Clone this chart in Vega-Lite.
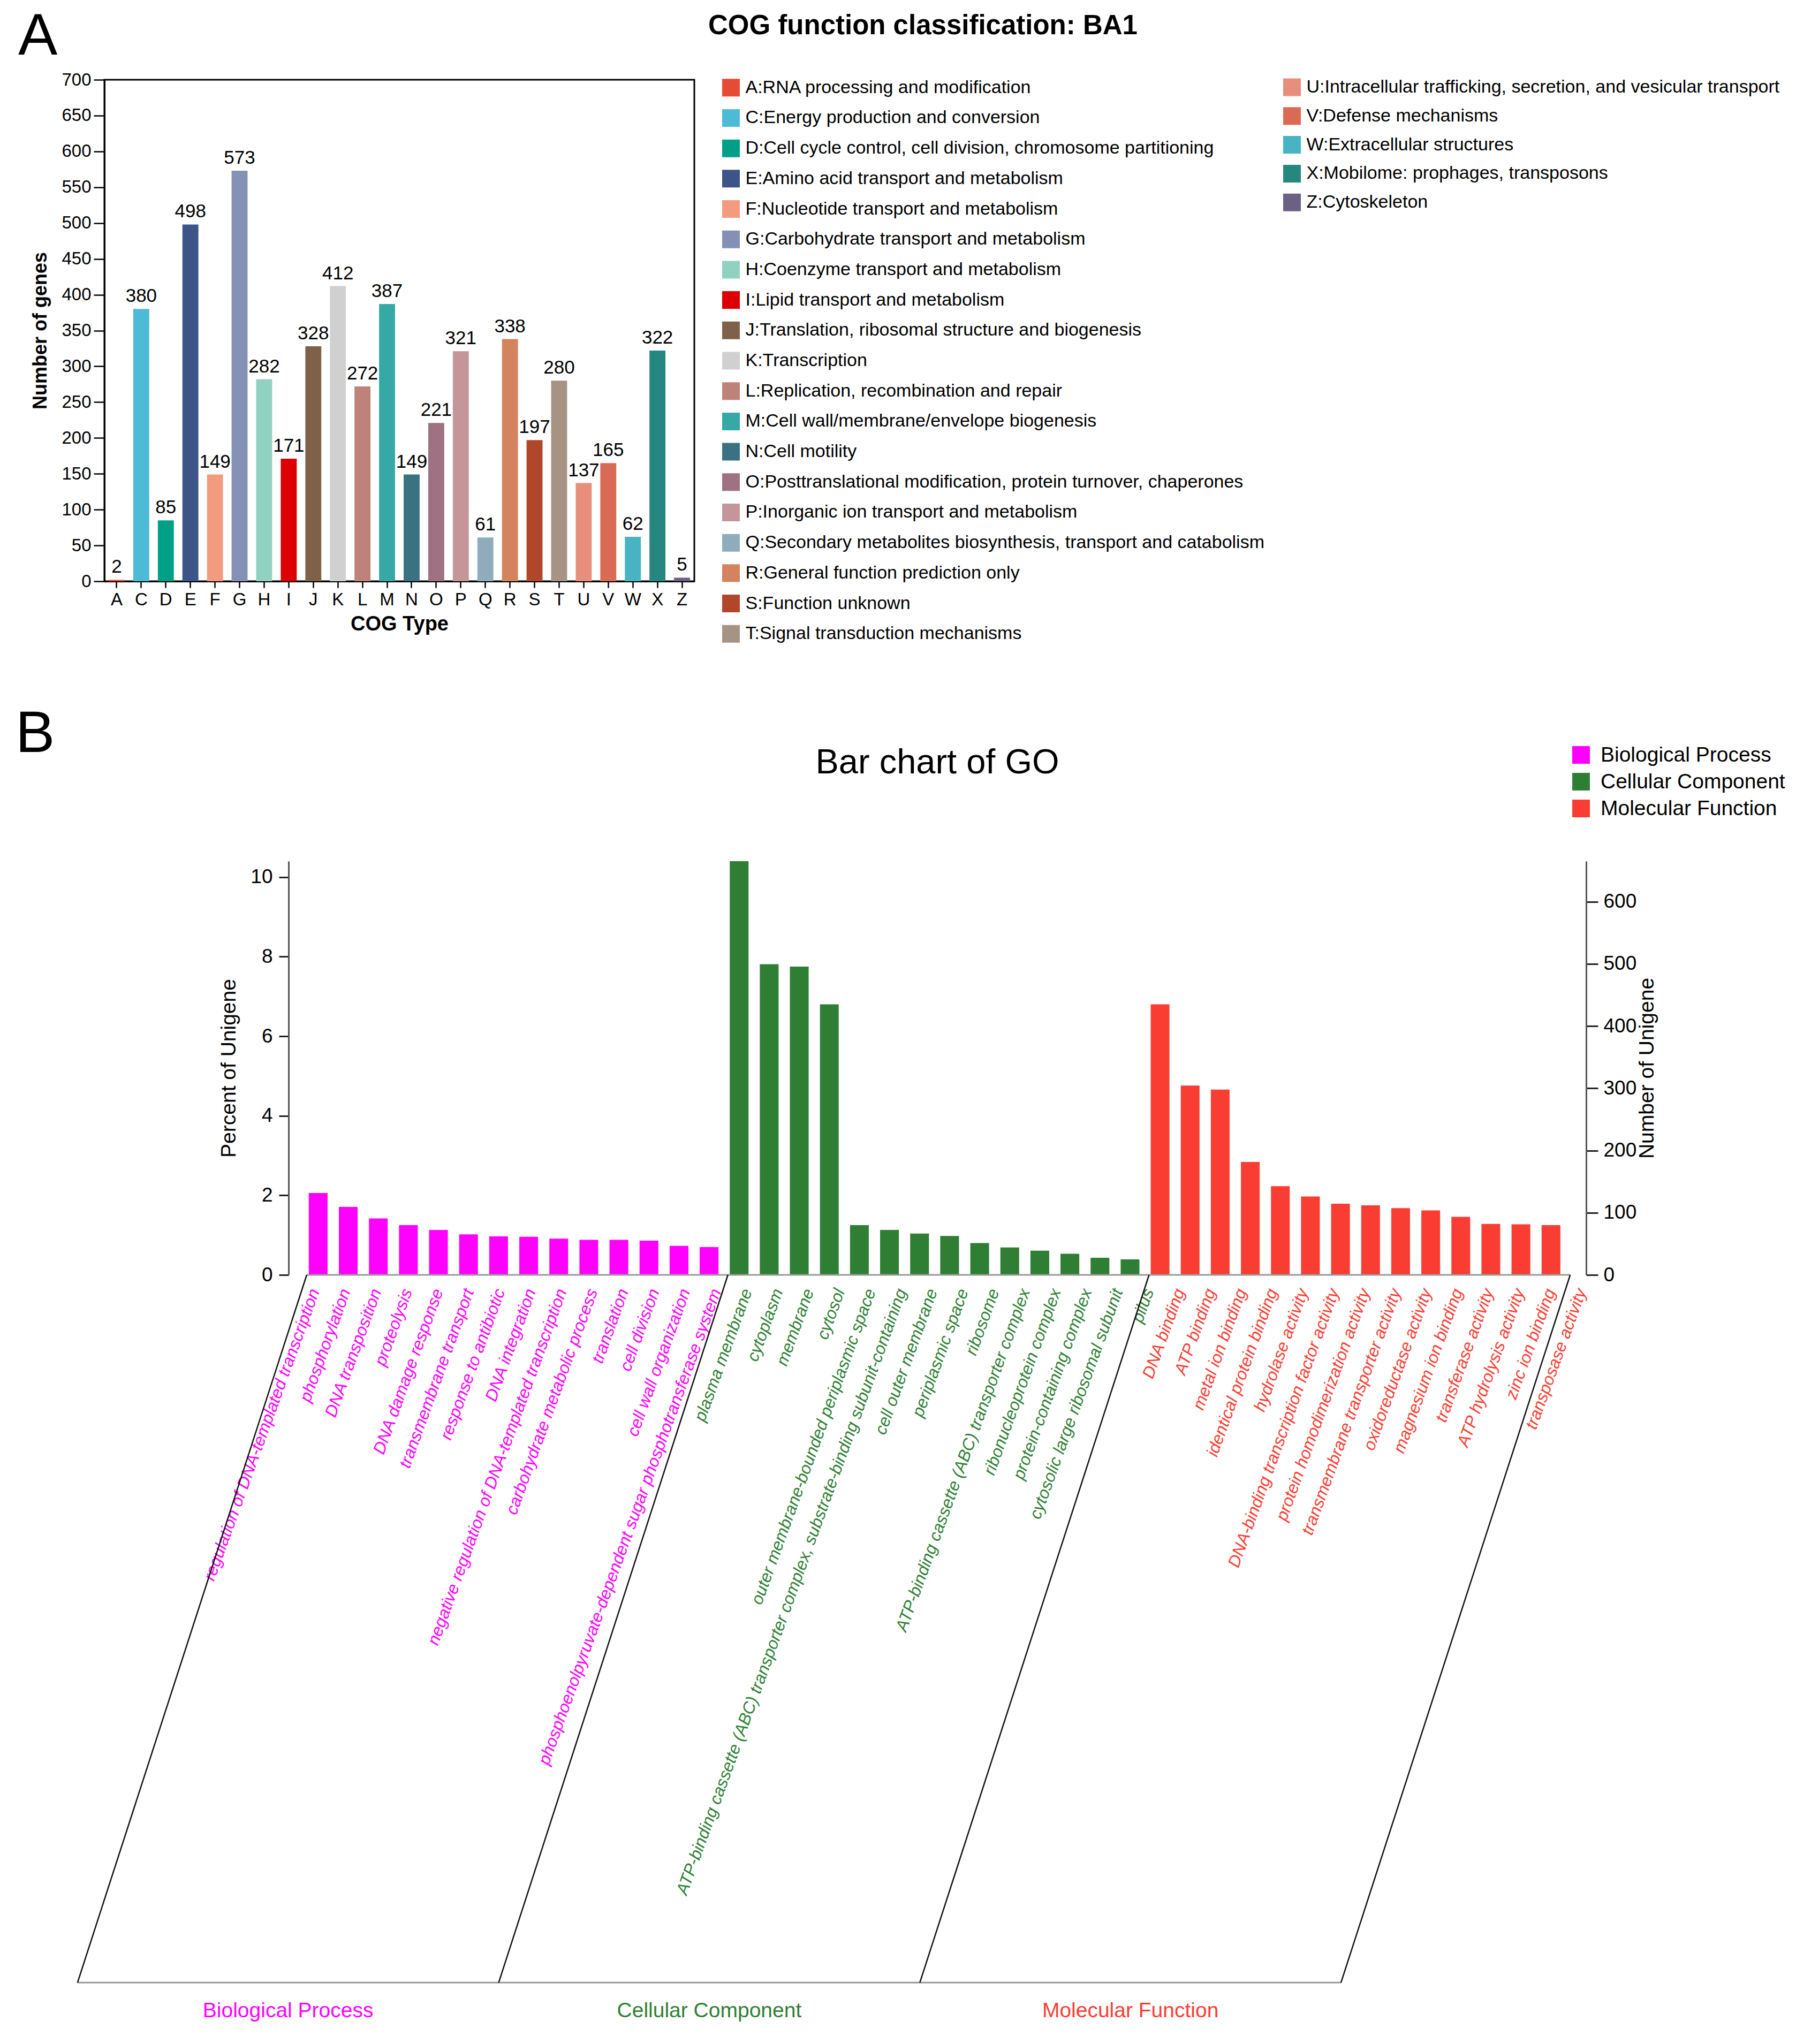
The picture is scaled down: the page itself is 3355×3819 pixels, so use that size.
{
  "$schema": "https://vega.github.io/schema/vega-lite/v6.json",
  "background": "white",
  "padding": {"left": 29, "top": 12, "right": 0, "bottom": 0},
  "datasets": {
    "cog": [
      {"code": "A", "name": "A:RNA processing and modification", "genes": 2},
      {"code": "C", "name": "C:Energy production and conversion", "genes": 380},
      {"code": "D", "name": "D:Cell cycle control, cell division, chromosome partitioning", "genes": 85},
      {"code": "E", "name": "E:Amino acid transport and metabolism", "genes": 498},
      {"code": "F", "name": "F:Nucleotide transport and metabolism", "genes": 149},
      {"code": "G", "name": "G:Carbohydrate transport and metabolism", "genes": 573},
      {"code": "H", "name": "H:Coenzyme transport and metabolism", "genes": 282},
      {"code": "I", "name": "I:Lipid transport and metabolism", "genes": 171},
      {"code": "J", "name": "J:Translation, ribosomal structure and biogenesis", "genes": 328},
      {"code": "K", "name": "K:Transcription", "genes": 412},
      {"code": "L", "name": "L:Replication, recombination and repair", "genes": 272},
      {"code": "M", "name": "M:Cell wall/membrane/envelope biogenesis", "genes": 387},
      {"code": "N", "name": "N:Cell motility", "genes": 149},
      {"code": "O", "name": "O:Posttranslational modification, protein turnover, chaperones", "genes": 221},
      {"code": "P", "name": "P:Inorganic ion transport and metabolism", "genes": 321},
      {"code": "Q", "name": "Q:Secondary metabolites biosynthesis, transport and catabolism", "genes": 61},
      {"code": "R", "name": "R:General function prediction only", "genes": 338},
      {"code": "S", "name": "S:Function unknown", "genes": 197},
      {"code": "T", "name": "T:Signal transduction mechanisms", "genes": 280},
      {"code": "U", "name": "U:Intracellular trafficking, secretion, and vesicular transport", "genes": 137},
      {"code": "V", "name": "V:Defense mechanisms", "genes": 165},
      {"code": "W", "name": "W:Extracellular structures", "genes": 62},
      {"code": "X", "name": "X:Mobilome: prophages, transposons", "genes": 322},
      {"code": "Z", "name": "Z:Cytoskeleton", "genes": 5}
    ],
    "go": [
      {"term": "regulation of DNA-templated transcription", "group": "Biological Process", "percent": 2.06},
      {"term": "phosphorylation", "group": "Biological Process", "percent": 1.71},
      {"term": "DNA transposition", "group": "Biological Process", "percent": 1.42},
      {"term": "proteolysis", "group": "Biological Process", "percent": 1.25},
      {"term": "DNA damage response", "group": "Biological Process", "percent": 1.13},
      {"term": "transmembrane transport", "group": "Biological Process", "percent": 1.02},
      {"term": "response to antibiotic", "group": "Biological Process", "percent": 0.97},
      {"term": "DNA integration", "group": "Biological Process", "percent": 0.96},
      {"term": "negative regulation of DNA-templated transcription", "group": "Biological Process", "percent": 0.91},
      {"term": "carbohydrate metabolic process", "group": "Biological Process", "percent": 0.88},
      {"term": "translation", "group": "Biological Process", "percent": 0.88},
      {"term": "cell division", "group": "Biological Process", "percent": 0.86},
      {"term": "cell wall organization", "group": "Biological Process", "percent": 0.73},
      {"term": "phosphoenolpyruvate-dependent sugar phosphotransferase system", "group": "Biological Process", "percent": 0.70},
      {"term": "plasma membrane", "group": "Cellular Component", "percent": 10.4},
      {"term": "cytoplasm", "group": "Cellular Component", "percent": 7.81},
      {"term": "membrane", "group": "Cellular Component", "percent": 7.75},
      {"term": "cytosol", "group": "Cellular Component", "percent": 6.8},
      {"term": "outer membrane-bounded periplasmic space", "group": "Cellular Component", "percent": 1.25},
      {"term": "ATP-binding cassette (ABC) transporter complex, substrate-binding subunit-containing", "group": "Cellular Component", "percent": 1.13},
      {"term": "cell outer membrane", "group": "Cellular Component", "percent": 1.04},
      {"term": "periplasmic space", "group": "Cellular Component", "percent": 0.98},
      {"term": "ribosome", "group": "Cellular Component", "percent": 0.8},
      {"term": "ATP-binding cassette (ABC) transporter complex", "group": "Cellular Component", "percent": 0.69},
      {"term": "ribonucleoprotein complex", "group": "Cellular Component", "percent": 0.61},
      {"term": "protein-containing complex", "group": "Cellular Component", "percent": 0.53},
      {"term": "cytosolic large ribosomal subunit", "group": "Cellular Component", "percent": 0.43},
      {"term": "pilus", "group": "Cellular Component", "percent": 0.39},
      {"term": "DNA binding", "group": "Molecular Function", "percent": 6.8},
      {"term": "ATP binding", "group": "Molecular Function", "percent": 4.76},
      {"term": "metal ion binding", "group": "Molecular Function", "percent": 4.66},
      {"term": "identical protein binding", "group": "Molecular Function", "percent": 2.84},
      {"term": "hydrolase activity", "group": "Molecular Function", "percent": 2.23},
      {"term": "DNA-binding transcription factor activity", "group": "Molecular Function", "percent": 1.97},
      {"term": "protein homodimerization activity", "group": "Molecular Function", "percent": 1.79},
      {"term": "transmembrane transporter activity", "group": "Molecular Function", "percent": 1.75},
      {"term": "oxidoreductase activity", "group": "Molecular Function", "percent": 1.68},
      {"term": "magnesium ion binding", "group": "Molecular Function", "percent": 1.62},
      {"term": "transferase activity", "group": "Molecular Function", "percent": 1.46},
      {"term": "ATP hydrolysis activity", "group": "Molecular Function", "percent": 1.28},
      {"term": "zinc ion binding", "group": "Molecular Function", "percent": 1.27},
      {"term": "transposase activity", "group": "Molecular Function", "percent": 1.25}
    ]
  },
  "vconcat": [
    {
      "hconcat": [
        {
          "title": {"text": "A", "anchor": "start", "frame": "bounds", "fontSize": 110, "fontWeight": "normal", "dx": -24, "offset": 8},
          "width": 1102,
          "height": 937,
          "view": {"stroke": "black", "strokeWidth": 3},
          "data": {"name": "cog"},
          "layer": [
            {
              "mark": {"type": "bar"},
              "encoding": {
                "x": {
                  "field": "code", "type": "nominal", "sort": null, "title": "COG Type",
                  "scale": {"paddingInner": 0.35, "paddingOuter": 0.175},
                  "axis": {"labelAngle": 0, "labelFontSize": 33, "tickSize": 12, "tickWidth": 2.5, "labelPadding": 6,
                           "titleFontSize": 38, "titleFontWeight": "bold", "titlePadding": 10, "domainWidth": 3}
                },
                "y": {
                  "field": "genes", "type": "quantitative", "title": "Number of genes",
                  "scale": {"domain": [0, 700], "nice": false},
                  "axis": {"values": [0, 50, 100, 150, 200, 250, 300, 350, 400, 450, 500, 550, 600, 650, 700],
                           "labelFontSize": 33, "tickSize": 20, "tickWidth": 2.5, "labelPadding": 5,
                           "titleFontSize": 36, "titleFontWeight": "bold", "titlePadding": 20, "domainWidth": 3}
                },
                "color": {
                  "field": "code", "type": "nominal", "legend": null,
                  "scale": {
                    "domain": ["A","C","D","E","F","G","H","I","J","K","L","M","N","O","P","Q","R","S","T","U","V","W","X","Z"],
                    "range": ["#E64B35","#4DBBD5","#00A087","#3C5488","#F39B7F","#8491B4","#91D1C2","#DC0000","#7E6148","#D0D0D0","#BF8278","#36A9A6","#3A7282","#9E7283","#C4969A","#8EACBB","#D3835E","#B0462A","#A69383","#E88E7C","#D96B55","#48B3C3","#268680","#6C6184"]
                  }
                }
              }
            },
            {
              "mark": {"type": "text", "baseline": "bottom", "dy": -6, "fontSize": 35, "color": "black"},
              "encoding": {
                "x": {"field": "code", "type": "nominal", "sort": null},
                "y": {"field": "genes", "type": "quantitative"},
                "text": {"field": "genes", "type": "quantitative"}
              }
            }
          ]
        },
        {
          "hconcat": [
            {
              "title": {"text": "COG function classification: BA1", "anchor": "start", "frame": "bounds", "fontSize": 51, "fontWeight": "bold", "dx": -26, "offset": 72},
              "width": 33,
              "height": 1050,
              "data": {"name": "cog"},
              "transform": [{"filter": {"field": "code", "oneOf": ["A","C","D","E","F","G","H","I","J","K","L","M","N","O","P","Q","R","S","T"]}}],
              "layer": [
                {
                  "mark": {"type": "square", "size": 1089, "opacity": 1},
                  "encoding": {
                    "y": {"field": "code", "type": "nominal", "sort": null, "axis": null, "scale": {"padding": 0.26}},
                    "color": {"field": "code", "type": "nominal", "legend": null}
                  }
                },
                {
                  "mark": {"type": "text", "align": "left", "baseline": "middle", "dx": 27, "fontSize": 34, "color": "black"},
                  "encoding": {
                    "y": {"field": "code", "type": "nominal", "sort": null, "axis": null},
                    "text": {"field": "name", "type": "nominal"}
                  }
                }
              ]
            },
            {
              "width": 33,
              "height": 243.2,
              "data": {"name": "cog"},
              "transform": [{"filter": {"field": "code", "oneOf": ["U","V","W","X","Z"]}}],
              "layer": [
                {
                  "mark": {"type": "square", "size": 1089, "opacity": 1},
                  "encoding": {
                    "y": {"field": "code", "type": "nominal", "sort": null, "axis": null, "scale": {"padding": 0.26}},
                    "color": {"field": "code", "type": "nominal", "legend": null}
                  }
                },
                {
                  "mark": {"type": "text", "align": "left", "baseline": "middle", "dx": 27, "fontSize": 34, "color": "black"},
                  "encoding": {
                    "y": {"field": "code", "type": "nominal", "sort": null, "axis": null},
                    "text": {"field": "name", "type": "nominal"}
                  }
                }
              ]
            }
          ],
          "spacing": 35
        }
      ],
      "spacing": 24
    },
    {
      "hconcat": [
        {
          "title": {"text": "B", "anchor": "start", "frame": "group", "fontSize": 110, "fontWeight": "normal", "dx": -166, "offset": 181},
          "width": 1,
          "height": 1,
          "view": {"fill": "white", "stroke": null},
          "data": {"values": []},
          "mark": {"type": "point"},
          "encoding": {}
        },
        {
          "title": {"text": "Bar chart of GO", "anchor": "middle", "fontSize": 65, "fontWeight": "normal", "offset": 150},
          "width": 2424,
          "height": 773,
          "data": {"name": "go"},
          "layer": [
            {
              "mark": {"type": "bar"},
              "encoding": {
                "x": {"field": "term", "type": "nominal", "sort": null, "axis": null,
                      "scale": {"paddingInner": 0.376, "paddingOuter": 0.766, "align": 0.44}},
                "y": {"field": "percent", "type": "quantitative", "title": "Percent of Unigene",
                      "scale": {"domain": [0, 10.4], "nice": false},
                      "axis": {"orient": "left", "values": [0, 2, 4, 6, 8, 10], "labelFontSize": 37, "tickSize": 18, "tickWidth": 3,
                               "labelPadding": 12, "domainColor": "#555", "domainWidth": 3, "tickColor": "#222",
                               "titleFontSize": 39, "titleFontWeight": "normal", "titlePadding": 20}},
                "color": {
                  "field": "group", "type": "nominal",
                  "scale": {"domain": ["Biological Process", "Cellular Component", "Molecular Function"],
                            "range": ["#FF00FF", "#2E7F34", "#FA3D33"]},
                  "legend": {"orient": "none", "legendX": 2739, "legendY": -218, "title": null,
                             "symbolType": "square", "symbolSize": 1089, "symbolStrokeWidth": 0,
                             "labelFontSize": 39, "labelOffset": 17, "rowPadding": 10, "labelLimit": 0, "labelColor": "black"}
                }
              }
            },
            {
              "mark": {"type": "text", "angle": 290, "align": "right", "baseline": "top", "dy": 10, "fontSize": 31.5, "fontStyle": "italic"},
              "encoding": {
                "x": {"field": "term", "type": "nominal", "sort": null, "axis": null,
                      "scale": {"paddingInner": 0.376, "paddingOuter": 0.766, "align": 0.44}},
                "y": {"datum": -0.25, "type": "quantitative", "scale": {"domain": [0, 10.4], "nice": false}, "axis": null},
                "text": {"field": "term", "type": "nominal"},
                "color": {"field": "group", "type": "nominal", "legend": null}
              }
            },
            {
              "data": {"values": [{}]},
              "mark": {"type": "rule", "color": "#999", "strokeWidth": 3},
              "encoding": {
                "x": {"datum": 0, "type": "quantitative", "scale": {"domain": [-0.605, 42.53], "nice": false, "zero": false}, "axis": null},
                "x2": {"datum": 42},
                "y": {"datum": 0, "type": "quantitative", "scale": {"domain": [0, 10.4], "nice": false}, "axis": null}
              }
            },
            {
              "data": {"values": [{}]},
              "mark": {"type": "rule", "color": "#999", "strokeWidth": 3},
              "encoding": {
                "x": {"datum": -7.62, "type": "quantitative", "scale": {"domain": [-0.605, 42.53], "nice": false, "zero": false}, "axis": null},
                "x2": {"datum": 34.38},
                "y": {"datum": -17.79, "type": "quantitative", "scale": {"domain": [0, 10.4], "nice": false}, "axis": null}
              }
            },
            {
              "data": {"values": [{}]},
              "mark": {"type": "rule", "color": "#111", "strokeWidth": 2.5},
              "encoding": {
                "x": {"datum": 0, "type": "quantitative", "scale": {"domain": [-0.605, 42.53], "nice": false, "zero": false}, "axis": null},
                "x2": {"datum": -7.62},
                "y": {"datum": 0, "type": "quantitative", "scale": {"domain": [0, 10.4], "nice": false}, "axis": null},
                "y2": {"datum": -17.79}
              }
            },
            {
              "data": {"values": [{}]},
              "mark": {"type": "rule", "color": "#111", "strokeWidth": 2.5},
              "encoding": {
                "x": {"datum": 14, "type": "quantitative", "scale": {"domain": [-0.605, 42.53], "nice": false, "zero": false}, "axis": null},
                "x2": {"datum": 6.38},
                "y": {"datum": 0, "type": "quantitative", "scale": {"domain": [0, 10.4], "nice": false}, "axis": null},
                "y2": {"datum": -17.79}
              }
            },
            {
              "data": {"values": [{}]},
              "mark": {"type": "rule", "color": "#111", "strokeWidth": 2.5},
              "encoding": {
                "x": {"datum": 28, "type": "quantitative", "scale": {"domain": [-0.605, 42.53], "nice": false, "zero": false}, "axis": null},
                "x2": {"datum": 20.38},
                "y": {"datum": 0, "type": "quantitative", "scale": {"domain": [0, 10.4], "nice": false}, "axis": null},
                "y2": {"datum": -17.79}
              }
            },
            {
              "data": {"values": [{}]},
              "mark": {"type": "rule", "color": "#111", "strokeWidth": 2.5},
              "encoding": {
                "x": {"datum": 42, "type": "quantitative", "scale": {"domain": [-0.605, 42.53], "nice": false, "zero": false}, "axis": null},
                "x2": {"datum": 34.38},
                "y": {"datum": 0, "type": "quantitative", "scale": {"domain": [0, 10.4], "nice": false}, "axis": null},
                "y2": {"datum": -17.79}
              }
            },
            {
              "data": {"values": [{}]},
              "mark": {"type": "text", "fontSize": 39, "baseline": "middle", "align": "center"},
              "encoding": {
                "x": {"datum": -0.62, "type": "quantitative", "scale": {"domain": [-0.605, 42.53], "nice": false, "zero": false}, "axis": null},
                "y": {"datum": -18.5, "type": "quantitative", "scale": {"domain": [0, 10.4], "nice": false}, "axis": null},
                "text": {"value": "Biological Process"},
                "color": {"datum": "Biological Process", "type": "nominal", "legend": null}
              }
            },
            {
              "data": {"values": [{}]},
              "mark": {"type": "text", "fontSize": 39, "baseline": "middle", "align": "center"},
              "encoding": {
                "x": {"datum": 13.38, "type": "quantitative", "scale": {"domain": [-0.605, 42.53], "nice": false, "zero": false}, "axis": null},
                "y": {"datum": -18.5, "type": "quantitative", "scale": {"domain": [0, 10.4], "nice": false}, "axis": null},
                "text": {"value": "Cellular Component"},
                "color": {"datum": "Cellular Component", "type": "nominal", "legend": null}
              }
            },
            {
              "data": {"values": [{}]},
              "mark": {"type": "text", "fontSize": 39, "baseline": "middle", "align": "center"},
              "encoding": {
                "x": {"datum": 27.38, "type": "quantitative", "scale": {"domain": [-0.605, 42.53], "nice": false, "zero": false}, "axis": null},
                "y": {"datum": -18.5, "type": "quantitative", "scale": {"domain": [0, 10.4], "nice": false}, "axis": null},
                "text": {"value": "Molecular Function"},
                "color": {"datum": "Molecular Function", "type": "nominal", "legend": null}
              }
            },
            {
              "data": {"values": [{}]},
              "mark": {"type": "rule", "opacity": 0},
              "encoding": {
                "y": {"datum": 0, "type": "quantitative",
                      "scale": {"domain": [0, 665], "nice": false},
                      "axis": {"orient": "right", "values": [0, 100, 200, 300, 400, 500, 600], "title": "Number of Unigene",
                               "labelFontSize": 37, "tickSize": 22, "tickWidth": 3, "labelPadding": 10,
                               "domainColor": "#555", "domainWidth": 3, "tickColor": "#222",
                               "titleFontSize": 39, "titleFontWeight": "normal", "titleAngle": 270, "titlePadding": 40}}
              }
            }
          ],
          "resolve": {"scale": {"x": "independent", "y": "independent"}}
        }
      ],
      "spacing": -53
    }
  ],
  "spacing": 115,
  "resolve": {"scale": {"color": "independent"}},
  "config": {
    "font": "Liberation Sans",
    "view": {"stroke": null},
    "axis": {"grid": false, "labelColor": "black", "titleColor": "black", "domainColor": "black", "tickColor": "black"},
    "title": {"color": "black"}
  }
}
